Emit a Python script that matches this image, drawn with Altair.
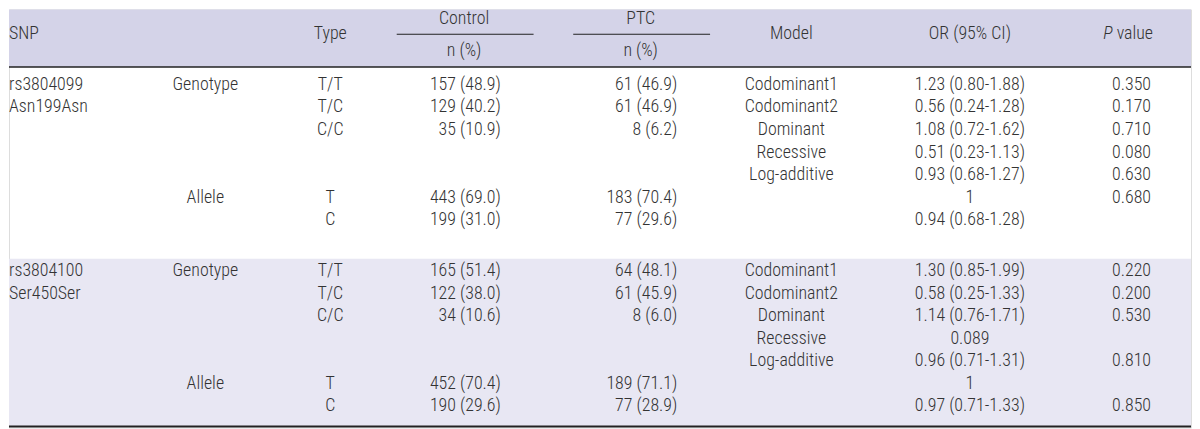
import altair as alt
import pandas as pd

# ---------------- data ----------------
snp_ids = ["rs3804099", "rs3804100"]
snp_changes = ["Asn199Asn", "Ser450Ser"]
category_labels = ["Genotype", "Allele"]
type_labels = ["T/T", "T/C", "C/C", "T", "C"]
control_vals = [
    ["157 (48.9)", "129 (40.2)", "35 (10.9)", "443 (69.0)", "199 (31.0)"],
    ["165 (51.4)", "122 (38.0)", "34 (10.6)", "452 (70.4)", "190 (29.6)"],
]
ptc_vals = [
    ["61 (46.9)", "61 (46.9)", "8 (6.2)", "183 (70.4)", "77 (29.6)"],
    ["64 (48.1)", "61 (45.9)", "8 (6.0)", "189 (71.1)", "77 (28.9)"],
]
model_labels = ["Codominant1", "Codominant2", "Dominant", "Recessive", "Log-additive"]
or_vals = [
    ["1.23 (0.80-1.88)", "0.56 (0.24-1.28)", "1.08 (0.72-1.62)", "0.51 (0.23-1.13)",
     "0.93 (0.68-1.27)", "1", "0.94 (0.68-1.28)"],
    ["1.30 (0.85-1.99)", "0.58 (0.25-1.33)", "1.14 (0.76-1.71)", "0.089",
     "0.96 (0.71-1.31)", "1", "0.97 (0.71-1.33)"],
]
p_vals = [
    ["0.350", "0.170", "0.710", "0.080", "0.630", "0.680", ""],
    ["0.220", "0.200", "0.530", "", "0.810", "", "0.850"],
]
header_labels = ["SNP", "Type", "Control", "PTC", "n (%)", "Model", "OR (95% CI)"]

# ---------------- layout (row units / x anchors) ----------------
ROW_PX = 22.7
ROW0_PX = 84.0


def row_of(px):
    return (px - ROW0_PX) / ROW_PX


Y_MIN = row_of(8)
Y_MAX = row_of(429)
group_start = [0.0, row_of(271.5)]
type_rows = [0, 1, 2, 5, 6]
COLX = dict(snp=8, cat=206, type=332, control=504, ptc=682, model=797, orv=977, p=1140)

cells = []


def add(text, x, row, align, style="normal"):
    if text != "":
        cells.append(dict(text=text, x=x, row=row, align=align, style=style))


# header
add(header_labels[0], COLX["snp"], row_of(33), "left")
add(header_labels[1], 332, row_of(33), "center")
add(header_labels[2], 467, row_of(18), "center")
add(header_labels[3], 645, row_of(18), "center")
add(header_labels[4], 467, row_of(50), "center")
add(header_labels[4], 645, row_of(50), "center")
add(header_labels[5], 797, row_of(33), "center")
add(header_labels[6], 977, row_of(33), "center")
add("P", 1121, row_of(33), "right", "italic")
add("value", 1125, row_of(33), "left")

for g in range(2):
    s = group_start[g]
    add(snp_ids[g], COLX["snp"], s + 0, "left")
    add(snp_changes[g], COLX["snp"], s + 1, "left")
    add(category_labels[0], COLX["cat"], s + 0, "center")
    add(category_labels[1], COLX["cat"], s + 5, "center")
    for i, r in enumerate(type_rows):
        add(type_labels[i], COLX["type"], s + r, "center")
        add(control_vals[g][i], COLX["control"], s + r, "right")
        add(ptc_vals[g][i], COLX["ptc"], s + r, "right")
    for i, m in enumerate(model_labels):
        add(m, COLX["model"], s + i, "center")
    for i in range(7):
        add(or_vals[g][i], COLX["orv"], s + i, "center")
        add(p_vals[g][i], COLX["p"], s + i, "center")

cells_df = pd.DataFrame(cells)

bands_df = pd.DataFrame([
    dict(x=8, x2=1200, y=Y_MIN, y2=row_of(66), color="#d4d3e8"),
    dict(x=8, x2=1200, y=row_of(259), y2=row_of(428), color="#e8e7f3"),
])

rules_df = pd.DataFrame([
    dict(x=8, x2=1200, y=row_of(66), w=1.5),
    dict(x=399, x2=537, y=row_of(33), w=1.2),
    dict(x=577, x2=715, y=row_of(33), w=1.2),
    dict(x=8, x2=1200, y=row_of(428), w=2),
])

xs = alt.Scale(domain=[8, 1200], nice=False, zero=False)
ys = alt.Scale(domain=[Y_MIN, Y_MAX], nice=False, zero=False, reverse=True)

FONT = "Roboto Condensed, Liberation Sans Narrow, DejaVu Sans Condensed, sans-serif"
FS = 18
TC = "#333333"

bands = alt.Chart(bands_df).mark_rect().encode(
    x=alt.X("x:Q", scale=xs, axis=None),
    x2="x2:Q",
    y=alt.Y("y:Q", scale=ys, axis=None),
    y2="y2:Q",
    color=alt.Color("color:N", scale=None),
)

rules = alt.Chart(rules_df).mark_rule(color="#222222").encode(
    x=alt.X("x:Q", scale=xs, axis=None),
    x2="x2:Q",
    y=alt.Y("y:Q", scale=ys, axis=None),
    strokeWidth=alt.StrokeWidth("w:Q", scale=None),
)

layers = [bands, rules]
for al in ["left", "center", "right"]:
    for st in ["normal", "italic"]:
        sub = cells_df[(cells_df["align"] == al) & (cells_df["style"] == st)]
        if len(sub) == 0:
            continue
        layers.append(
            alt.Chart(sub).mark_text(
                align=al, baseline="middle", font=FONT, fontSize=FS,
                fontStyle=st, fontWeight=300, color=TC,
            ).encode(
                x=alt.X("x:Q", scale=xs, axis=None),
                y=alt.Y("row:Q", scale=ys, axis=None),
                text="text:N",
            )
        )

chart = alt.layer(*layers).properties(
    width=1192, height=421, padding=0,
    autosize=alt.AutoSizeParams(type="fit", contains="padding"),
).configure_view(stroke=None).configure(background="white")

chart.save("out.html", embed_options={"renderer": "svg", "actions": False})
